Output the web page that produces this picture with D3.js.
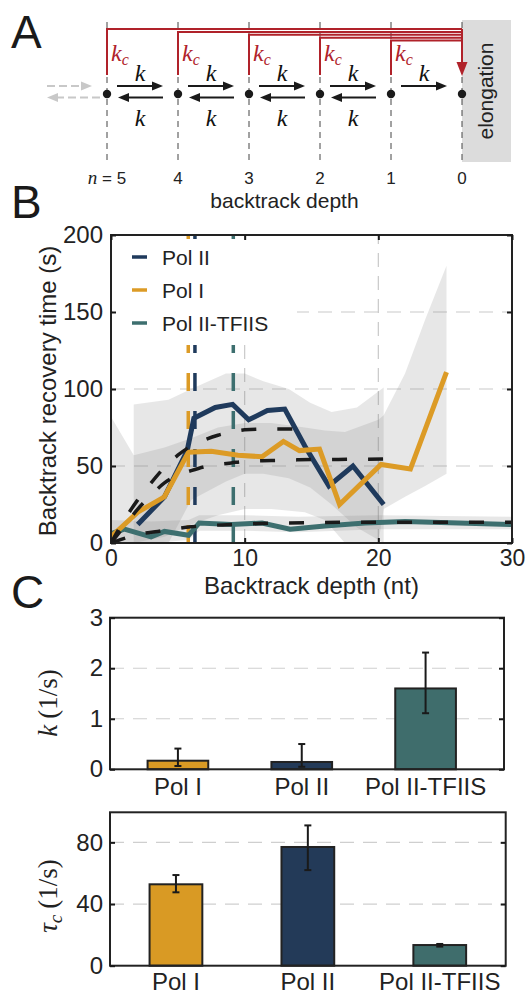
<!DOCTYPE html>
<html>
<head>
<meta charset="utf-8">
<script src="https://cdn.jsdelivr.net/npm/d3@7"></script>
<style>
  body { margin: 0; background: #fff; }
  svg { display: block; }
</style>
</head>
<body>
<div id="fig"></div>
<script>

/* ---------- data ---------- */

// panel A : backtrack states
const depthNodes = [5, 4, 3, 2, 1, 0];

// panel B : series
const seriesNames  = ['Pol II', 'Pol I', 'Pol II-TFIIS'];
const seriesColors = ['#1f3a5c', '#dc9b26', '#3d6f6f'];

const polIIRecovery = [[2,12],[4,30],[5.7,60],[6.2,81],[7.8,88],[9.1,90],[10.3,80],[11.7,86],[13,87],[14.5,63],[16.3,37],[18.1,50],[20.4,25]];
const polIRecovery  = [[0,4],[2,20],[4,30],[5.8,59],[7.5,59.5],[9.5,57],[11.3,56],[12.9,66],[14.1,60],[15.6,61],[17.1,25],[20.2,51],[22.4,48],[25.1,111]];
const tfiisRecovery = [[0,6],[1,9],[3,4],[4,7.5],[5.8,5],[6.6,13],[9,12],[11.3,13],[13.4,9],[16,11],[19,13],[22,14],[26,13],[30,12]];

// confidence bands [depth, low, high]
const polIBand  = [[0,0,82],[1.7,0,57],[4,4,62],[6,12,68],[8,18,75],[10,22,78],[12,22,78],[14.5,20,75],[16,15,73],[17.5,0,72],[20,0,80],[20.4,22,83],[22,30,110],[23.5,37,145],[25.1,45,180]];
const polIIBand = [[1.7,0,90],[4.3,0,93],[6,28,100],[8.6,40,110],[10,45,110],[11.4,45,105],[13.3,42,100],[14.9,36,91],[16.5,25,85],[18.4,10,88],[20.4,0,101]];
const tfiisBand = [[0,0,15],[3,0,14],[5.8,2,15],[6.6,8,18],[10,8,18],[14,7,17],[20,9,18],[30,9,17]];

// model fits (black dashed)
const modelUpper = [[0,0],[1,15],[2,28],[3,39],[4,49],[5,57],[6,63],[7,67],[8,70],[9,72],[10,73.5],[12,74],[14,74]];
const modelLower = [[0,0],[1,11],[2,22],[3,31],[4,39],[5,44],[6,47],[7,49.5],[8,51],[9,52],[10,53],[12,53.5],[14,54],[17,54.3],[20.5,54.5]];
const modelTfiis = [[0,0],[1,3],[2,5.5],[3.5,7.5],[6,10.5],[9,12],[13,13],[20,13.5],[30,13.5]];

// mean depth markers (Pol I, Pol II, TFIIS)
const markerDepths = [5.78, 6.28, 9.15];
const markerColors = ['#dc9b26', '#1f3a5c', '#3d6f6f'];

const xTicksB = [0, 10, 20, 30];
const yTicksB = [0, 50, 100, 150, 200];

// panel C : bars
const categories = ['Pol I', 'Pol II', 'Pol II-TFIIS'];
const barColors  = ['#d99a24', '#233a58', '#3f6d6c'];
const kValues = [0.17, 0.145, 1.6];
const kLow    = [0.065, 0.05, 1.11];
const kHigh   = [0.41, 0.5, 2.31];
const tauValues = [52.8, 77, 13.4];
const tauLow    = [47.6, 62, 12.4];
const tauHigh   = [58.8, 91, 14.1];
const kTicks   = [0, 1, 2, 3];
const tauTicks = [0, 40, 80];

/* ---------- setup ---------- */

const W = 529, H = 994;
const SANS = "'Liberation Sans', Arial, sans-serif";
const SERIF = "'Liberation Serif', 'DejaVu Serif', serif";
const RED = '#b0222a';

const svg = d3.select('#fig').append('svg')
  .attr('width', W).attr('height', H)
  .attr('viewBox', `0 0 ${W} ${H}`);

const defs = svg.append('defs');

/* panel letters */
[['A', 48], ['B', 218], ['C', 608]].forEach(([t, y]) => {
  svg.append('text').attr('x', 11).attr('y', y)
    .attr('font-family', SANS).attr('font-size', '46px').attr('fill', '#1a1a1a')
    .text(t);
});

/* ---------- panel A ---------- */

const xA = d3.scalePoint().domain(depthNodes).range([107, 462]);
const gA = svg.append('g');

// elongation box
gA.append('rect')
  .attr('x', xA(0)).attr('y', 20).attr('width', 49).attr('height', 142)
  .attr('fill', '#dcdcdc');
gA.append('text')
  .attr('transform', `translate(${xA(0) + 31},91) rotate(-90)`)
  .attr('text-anchor', 'middle')
  .attr('font-family', SANS).attr('font-size', '21px').attr('fill', '#222')
  .text('elongation');

// dashed verticals
gA.selectAll('.vdash').data(depthNodes).join('line')
  .attr('x1', d => xA(d)).attr('x2', d => xA(d))
  .attr('y1', 22).attr('y2', 164)
  .attr('stroke', '#444').attr('stroke-width', 1).attr('stroke-dasharray', '6,5');

// red cleavage paths
const cleaveNodes = depthNodes.filter(d => d > 0);
cleaveNodes.forEach((n, i) => {
  const y0 = 29 + i * 2.9;
  gA.append('path')
    .attr('d', `M${xA(n)},75 V${y0} H${xA(0)}`)
    .attr('fill', 'none').attr('stroke', RED).attr('stroke-width', 2);
  const t = gA.append('text').attr('x', xA(n) + 4).attr('y', 61)
    .attr('font-family', SERIF).attr('font-style', 'italic').attr('fill', RED);
  t.append('tspan').attr('font-size', '24px').text('k');
  t.append('tspan').attr('font-size', '16px').attr('dy', 4).text('c');
});
gA.append('line')
  .attr('x1', xA(0)).attr('x2', xA(0)).attr('y1', 29).attr('y2', 64)
  .attr('stroke', RED).attr('stroke-width', 2);
gA.append('path')
  .attr('d', `M${xA(0) - 5.5},62 L${xA(0) + 5.5},62 L${xA(0)},76 Z`)
  .attr('fill', RED);

// arrows helper
function arrow(g, x1, x2, y, color, dash) {
  const dir = x2 > x1 ? 1 : -1;
  g.append('line')
    .attr('x1', x1).attr('x2', x2 - dir * 8).attr('y1', y).attr('y2', y)
    .attr('stroke', color).attr('stroke-width', 2)
    .attr('stroke-dasharray', dash || null);
  g.append('path')
    .attr('d', `M${x2},${y} L${x2 - dir * 11},${y - 4.5} L${x2 - dir * 11},${y + 4.5} Z`)
    .attr('fill', color);
}

const kLabel = (x, y) => gA.append('text').attr('x', x).attr('y', y)
  .attr('text-anchor', 'middle')
  .attr('font-family', SERIF).attr('font-style', 'italic').attr('font-size', '24px')
  .attr('fill', '#111').text('k');

depthNodes.slice(0, -1).forEach((n, i) => {
  const next = depthNodes[i + 1];
  const a = xA(n) + 10, b = xA(next) - 15;
  arrow(gA, a, b, 86, '#1a1a1a');
  kLabel((a + b) / 2, 81);
  if (next > 0) {
    arrow(gA, b, a + 1, 97.5, '#1a1a1a');
    kLabel((a + b) / 2, 126);
  }
});

// faded arrows to deeper states
arrow(gA, 47, 92, 86, '#c8c8c8', '8,4');
arrow(gA, 100, 47, 97.5, '#c8c8c8', '8,4');

// nodes
gA.selectAll('.node').data(depthNodes).join('circle')
  .attr('cx', d => xA(d)).attr('cy', 94).attr('r', 4.2).attr('fill', '#1a1a1a');

// depth labels
gA.selectAll('.nlab').data(depthNodes).join('text')
  .attr('x', d => xA(d)).attr('y', 184)
  .attr('text-anchor', 'middle')
  .attr('font-family', SANS).attr('font-size', '17px').attr('fill', '#222')
  .each(function(d) {
    const t = d3.select(this);
    if (d === 5) {
      t.append('tspan').attr('font-family', SERIF).attr('font-style', 'italic').attr('font-size', '19px').text('n');
      t.append('tspan').text(' = 5');
    } else t.text(d);
  });

gA.append('text')
  .attr('x', (xA(5) + xA(0)) / 2).attr('y', 208)
  .attr('text-anchor', 'middle')
  .attr('font-family', SANS).attr('font-size', '21px').attr('fill', '#222')
  .text('backtrack depth');

/* ---------- panel B ---------- */

const xB = d3.scaleLinear().domain([0, 30]).range([111, 512]);
const yB = d3.scaleLinear().domain([0, 200]).range([543, 235]);
const gB = svg.append('g');

defs.append('clipPath').attr('id', 'clipB')
  .append('rect').attr('x', xB(0)).attr('y', yB(200))
  .attr('width', xB(30) - xB(0)).attr('height', yB(0) - yB(200));

// grid
gB.selectAll('.gx').data(xTicksB.slice(1, -1)).join('line')
  .attr('x1', d => xB(d)).attr('x2', d => xB(d))
  .attr('y1', yB(0)).attr('y2', yB(200))
  .attr('stroke', '#c9c9c9').attr('stroke-width', 1.2).attr('stroke-dasharray', '14,9');
gB.selectAll('.gy').data(yTicksB.slice(1, -1)).join('line')
  .attr('x1', xB(0)).attr('x2', xB(30))
  .attr('y1', d => yB(d)).attr('y2', d => yB(d))
  .attr('stroke', '#c9c9c9').attr('stroke-width', 1.2).attr('stroke-dasharray', '14,9');

const plotB = gB.append('g').attr('clip-path', 'url(#clipB)');

// bands
const band = d3.area().x(d => xB(d[0])).y0(d => yB(d[1])).y1(d => yB(d[2]));
[polIBand, polIIBand, tfiisBand].forEach(b => {
  plotB.append('path').attr('d', band(b))
    .attr('fill', '#808080').attr('fill-opacity', 0.19);
});

// depth markers
plotB.selectAll('.marker').data(markerDepths).join('line')
  .attr('x1', d => xB(d)).attr('x2', d => xB(d))
  .attr('y1', yB(0)).attr('y2', yB(200))
  .attr('stroke', (d, i) => markerColors[i]).attr('stroke-width', 3.5)
  .attr('stroke-dasharray', '18,20');

// data lines
const line = d3.line().x(d => xB(d[0])).y(d => yB(d[1]));
[polIIRecovery, tfiisRecovery, polIRecovery].forEach((s, i) => {
  const c = [seriesColors[0], seriesColors[2], seriesColors[1]][i];
  plotB.append('path').attr('d', line(s))
    .attr('fill', 'none').attr('stroke', c).attr('stroke-width', 5);
});

// model curves
const curve = d3.line().x(d => xB(d[0])).y(d => yB(d[1])).curve(d3.curveMonotoneX);
[modelUpper, modelLower, modelTfiis].forEach(m => {
  plotB.append('path').attr('d', curve(m))
    .attr('fill', 'none').attr('stroke', '#1a1a1a').attr('stroke-width', 3.5)
    .attr('stroke-dasharray', '15,21');
});

// legend
const leg = gB.append('g');
leg.append('rect').attr('x', 113).attr('y', 239).attr('width', 184).attr('height', 106).attr('fill', '#fff');
seriesNames.forEach((name, i) => {
  const y = 257 + i * 33;
  leg.append('line').attr('x1', 132).attr('x2', 147).attr('y1', y).attr('y2', y)
    .attr('stroke', seriesColors[i]).attr('stroke-width', 3.5);
  leg.append('text').attr('x', 162).attr('y', y + 7.5)
    .attr('font-family', SANS).attr('font-size', '21px').attr('fill', '#222')
    .text(name);
});

// frame + axes
function styleAxis(ax, fs) {
  ax.select('.domain').remove();
  ax.selectAll('.tick line').attr('stroke', '#1a1a1a').attr('stroke-width', 2);
  ax.selectAll('text').attr('font-family', SANS).attr('font-size', fs).attr('fill', '#222');
}

gB.append('rect').attr('x', xB(0)).attr('y', yB(200))
  .attr('width', xB(30) - xB(0)).attr('height', yB(0) - yB(200))
  .attr('fill', 'none').attr('stroke', '#222').attr('stroke-width', 2);

gB.append('g').attr('transform', `translate(0,${yB(0)})`)
  .call(d3.axisBottom(xB).tickValues(xTicksB).tickSize(-5).tickPadding(7))
  .call(ax => styleAxis(ax, '23px'));
gB.append('g').attr('transform', `translate(0,${yB(200)})`)
  .call(d3.axisTop(xB).tickValues(xTicksB).tickSize(-5).tickFormat(''))
  .call(ax => styleAxis(ax, '23px'));
gB.append('g').attr('transform', `translate(${xB(0)},0)`)
  .call(d3.axisLeft(yB).tickValues(yTicksB).tickSize(-5).tickPadding(8))
  .call(ax => styleAxis(ax, '24px'));
gB.append('g').attr('transform', `translate(${xB(30)},0)`)
  .call(d3.axisRight(yB).tickValues(yTicksB).tickSize(-5).tickFormat(''))
  .call(ax => styleAxis(ax, '24px'));

gB.append('text')
  .attr('x', (xB(0) + xB(30)) / 2).attr('y', 594)
  .attr('text-anchor', 'middle')
  .attr('font-family', SANS).attr('font-size', '24px').attr('fill', '#222')
  .text('Backtrack depth (nt)');
gB.append('text')
  .attr('transform', `translate(56,${(yB(0) + yB(200)) / 2 + 2}) rotate(-90)`)
  .attr('text-anchor', 'middle')
  .attr('font-family', SANS).attr('font-size', '24px').attr('fill', '#222')
  .text('Backtrack recovery time (s)');

/* ---------- panel C ---------- */

function barChart(opts) {
  const { x0, x1, yTop, yBot, domainMax, ticks, vals, lo, hi, bandRange, padIn, padOut, labelY } = opts;
  const g = svg.append('g');
  const x = d3.scaleBand().domain(categories).range(bandRange).paddingInner(padIn).paddingOuter(padOut);
  const y = d3.scaleLinear().domain([0, domainMax]).range([yBot, yTop]);

  g.selectAll('.grid').data(ticks.filter(t => t > 0 && t < domainMax)).join('line')
    .attr('x1', x0).attr('x2', x1)
    .attr('y1', d => y(d)).attr('y2', d => y(d))
    .attr('stroke', '#cfcfcf').attr('stroke-width', 1.2).attr('stroke-dasharray', '14,9');

  g.selectAll('.bar').data(vals).join('rect')
    .attr('x', (d, i) => x(categories[i])).attr('width', x.bandwidth())
    .attr('y', d => y(d)).attr('height', d => yBot - y(d))
    .attr('fill', (d, i) => barColors[i])
    .attr('stroke', '#222').attr('stroke-width', 2);

  vals.forEach((v, i) => {
    const cx = x(categories[i]) + x.bandwidth() / 2;
    g.append('line').attr('x1', cx).attr('x2', cx).attr('y1', y(lo[i])).attr('y2', y(hi[i]))
      .attr('stroke', '#1a1a1a').attr('stroke-width', 2);
    [lo[i], hi[i]].forEach(e => g.append('line')
      .attr('x1', cx - 3.5).attr('x2', cx + 3.5).attr('y1', y(e)).attr('y2', y(e))
      .attr('stroke', '#1a1a1a').attr('stroke-width', 2));
  });

  g.append('rect').attr('x', x0).attr('y', yTop).attr('width', x1 - x0).attr('height', yBot - yTop)
    .attr('fill', 'none').attr('stroke', '#222').attr('stroke-width', 2);

  g.append('g').attr('transform', `translate(${x0},0)`)
    .call(d3.axisLeft(y).tickValues(ticks).tickSize(-5).tickPadding(7).tickFormat(d3.format('d')))
    .call(ax => styleAxis(ax, '24px'));
  g.append('g').attr('transform', `translate(${x1},0)`)
    .call(d3.axisRight(y).tickValues(ticks).tickSize(-5).tickFormat(''))
    .call(ax => styleAxis(ax, '24px'));
  g.append('g').attr('transform', `translate(0,${yBot})`)
    .call(d3.axisBottom(x).tickSize(0).tickPadding(labelY - yBot - 17))
    .call(ax => styleAxis(ax, '24px'));
  return g;
}

const gC1 = barChart({
  x0: 110, x1: 504, yTop: 617.7, yBot: 769.3, domainMax: 3, ticks: kTicks,
  vals: kValues, lo: kLow, hi: kHigh,
  bandRange: [116, 487.5], padIn: 0.51, padOut: 0.255, labelY: 795
});
const gC2 = barChart({
  x0: 110, x1: 505.7, yTop: 812.3, yBot: 965.7, domainMax: 99.5, ticks: tauTicks,
  vals: tauValues, lo: tauLow, hi: tauHigh,
  bandRange: [110, 505.7], padIn: 0.6, padOut: 0.3, labelY: 990
});

// y labels (math)
const kLab = svg.append('text')
  .attr('transform', 'translate(57,703) rotate(-90)')
  .attr('text-anchor', 'middle')
  .attr('font-family', SERIF).attr('font-size', '27px').attr('fill', '#222');
kLab.append('tspan').attr('font-style', 'italic').text('k');
kLab.append('tspan').attr('dx', 6).text('(1/s)');

const tLab = svg.append('text')
  .attr('transform', 'translate(57,896) rotate(-90)')
  .attr('text-anchor', 'middle')
  .attr('font-family', SERIF).attr('font-size', '27px').attr('fill', '#222');
tLab.append('tspan').attr('font-style', 'italic').text('τ');
tLab.append('tspan').attr('font-style', 'italic').attr('font-size', '19px').attr('dy', 5).text('c');
tLab.append('tspan').attr('dx', 6).attr('dy', -5).text('(1/s)');

</script>
</body>
</html>
